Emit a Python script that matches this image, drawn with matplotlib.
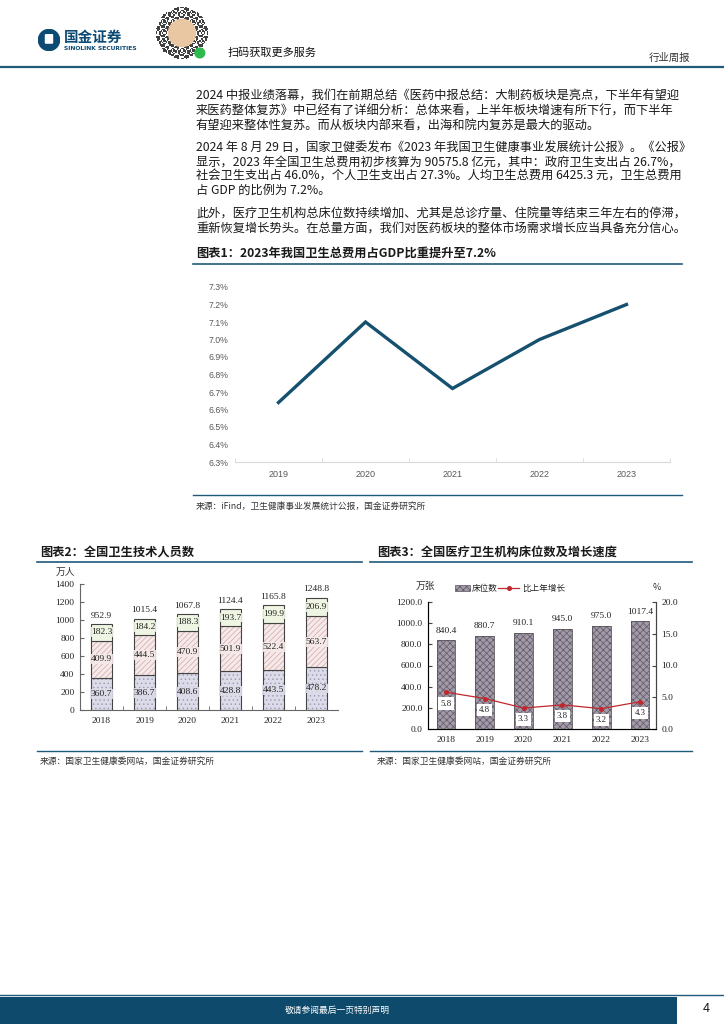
import numpy as np
import matplotlib
matplotlib.use("Agg")
import matplotlib.pyplot as plt
from matplotlib.lines import Line2D
from matplotlib.patches import Rectangle, Circle, FancyBboxPatch

plt.rcParams['font.family'] = ['Noto Sans CJK SC', 'DejaVu Sans']
plt.rcParams['hatch.linewidth'] = 0.5

# ---------------- data ----------------
years1 = ['2019', '2020', '2021', '2022', '2023']
gdp_share = [6.64, 7.10, 6.72, 7.00, 7.20]

years2 = ['2018', '2019', '2020', '2021', '2022', '2023']
staff_bottom = [360.7, 386.7, 408.6, 428.8, 443.5, 478.2]
staff_mid = [409.9, 444.5, 470.9, 501.9, 522.4, 563.7]
staff_top = [182.3, 184.2, 188.3, 193.7, 199.9, 206.9]
staff_total = [952.9, 1015.4, 1067.8, 1124.4, 1165.8, 1248.8]

years3 = ['2018', '2019', '2020', '2021', '2022', '2023']
beds = [840.4, 880.7, 910.1, 945.0, 975.0, 1017.4]
bed_growth = [5.8, 4.8, 3.3, 3.8, 3.2, 4.3]

para_lines = [
    "2024 中报业绩落幕，我们在前期总结《医药中报总结：大制药板块是亮点，下半年有望迎",
    "来医药整体复苏》中已经有了详细分析：总体来看，上半年板块增速有所下行，而下半年",
    "有望迎来整体性复苏。而从板块内部来看，出海和院内复苏是最大的驱动。",
    "2024 年 8 月 29 日，国家卫健委发布《2023 年我国卫生健康事业发展统计公报》。《公报》",
    "显示，2023 年全国卫生总费用初步核算为 90575.8 亿元，其中：政府卫生支出占 26.7%，",
    "社会卫生支出占 46.0%，个人卫生支出占 27.3%。人均卫生总费用 6425.3 元，卫生总费用",
    "占 GDP 的比例为 7.2%。",
    "此外，医疗卫生机构总床位数持续增加、尤其是总诊疗量、住院量等结束三年左右的停滞，",
    "重新恢复增长势头。在总量方面，我们对医药板块的整体市场需求增长应当具备充分信心。",
]
para_y = [95, 111, 126, 148, 162, 176, 190, 214, 229]

W, H = 724, 1024
fig = plt.figure(figsize=(W / 100, H / 100), dpi=100)

def fx(x):
    return x / W

def fy(y):
    return 1 - y / H

def rect(l, t, r, b):
    return [fx(l), fy(b), fx(r) - fx(l), fy(t) - fy(b)]

def hline(x0, x1, y, color='#1f5a7a', lw=1.2):
    fig.add_artist(Line2D([fx(x0), fx(x1)], [fy(y), fy(y)], transform=fig.transFigure,
                          color=color, lw=lw))

def ftext(x, y, s, **kw):
    kw.setdefault('va', 'center')
    fig.text(fx(x), fy(y), s, **kw)

BLUE = '#1f5a7a'
SERIF = ['Liberation Serif', 'Noto Sans CJK SC']

# ---------------- header ----------------
lax = fig.add_axes(rect(38, 29, 60, 51))
lax.set_xlim(0, 1); lax.set_ylim(0, 1); lax.axis('off')
lax.add_patch(Circle((0.5, 0.5), 0.48, color='#0d4a73'))
lax.add_patch(FancyBboxPatch((0.36, 0.38), 0.28, 0.34, boxstyle='round,pad=0.02', color='white'))
ftext(64, 37, "国金证券", fontsize=10.5, fontweight='bold', color='#0d4a73')
ftext(64, 49, "SINOLINK SECURITIES", fontsize=4.3, fontweight='bold', color='#0d4a73',
      family=['DejaVu Sans'])

qax = fig.add_axes(rect(150, 6, 214, 60))
n = 45
ii, jj = np.meshgrid(np.arange(n), np.arange(n))
qr = ((((ii * jj) ^ (ii + 3 * jj)) & 4) > 0).astype(float)
yy, xx = np.meshgrid(np.linspace(-1, 1, n), np.linspace(-1, 1, n))
rr = xx ** 2 + yy ** 2
qr[rr > 0.95] = 0
qax.imshow(1 - qr * 0.75, cmap='gray', vmin=0, vmax=1, extent=(0, 1, 0, 1),
           interpolation='nearest')
qax.add_patch(Circle((0.5, 0.5), 0.25, color='#e8c7a2'))
qax.add_patch(Circle((0.83, 0.13), 0.09, color='#2dbb4e'))
qax.axis('off')

ftext(228, 53, "扫码获取更多服务", fontsize=8, color='#111111')
ftext(690, 58, "行业周报", fontsize=7.5, color='#333333', ha='right')
hline(0, 724, 67, color=BLUE, lw=1.6)

# ---------------- paragraphs ----------------
for s, y in zip(para_lines, para_y):
    ftext(196, y, s, fontsize=8.8, color='#1a1a1a')

# ---------------- figure 1 ----------------
ftext(196, 253, "图表1：2023年我国卫生总费用占GDP比重提升至7.2%", fontsize=8.8,
      fontweight='bold', color='#1a1a1a')
hline(193, 682, 264, lw=1.2)

ax1 = fig.add_axes(rect(235, 287, 670, 462))
x1 = np.arange(len(years1))
ax1.plot(x1, gdp_share, color='#15506f', lw=2.4, solid_joinstyle='miter')
ax1.set_xlim(-0.5, len(years1) - 0.5)
ax1.set_ylim(6.3, 7.3)
yt = np.round(np.arange(6.3, 7.301, 0.1), 1)
ax1.set_yticks(yt)
ax1.set_yticklabels([f"{v:.1f}%" for v in yt], family=['Liberation Sans'], fontsize=6.3,
                    color='#595959')
ax1.set_xticks(x1)
ax1.set_xticklabels(years1, family=['Liberation Sans'], fontsize=6.5, color='#595959')
ax1.set_xticks(np.arange(-0.5, len(years1)), minor=True)
ax1.tick_params(axis='y', length=0, pad=5)
ax1.tick_params(axis='x', which='major', length=0, pad=6)
ax1.tick_params(axis='x', which='minor', direction='in', length=3, color='#d9d9d9')
for sp in ['top', 'right', 'left']:
    ax1.spines[sp].set_visible(False)
ax1.spines['bottom'].set_color('#d9d9d9')
ax1.patch.set_alpha(0)

hline(193, 682, 495, lw=1.0)
ftext(196, 507, "来源：iFind，卫生健康事业发展统计公报，国金证券研究所", fontsize=6.3, color='#333333')

# ---------------- figure 2 ----------------
ftext(40, 552, "图表2：全国卫生技术人员数", fontsize=8.8, fontweight='bold', color='#1a1a1a')
hline(37, 362, 562, lw=1.2)

ax2 = fig.add_axes(rect(80, 584, 338, 710))
x2 = np.arange(len(years2))
bw = 0.51
segs = [(staff_bottom, '#dcdbe8', '#9a98b8', '....'),
        (staff_mid, '#f6e9e9', '#d2a8a8', '//////'),
        (staff_top, '#eef5e2', '#eef5e2', None)]
base = np.zeros(len(years2))
for vals, fc, hc, hatch in segs:
    vals = np.array(vals)
    ax2.bar(x2, vals, bw, bottom=base, color=fc, edgecolor=hc, hatch=hatch, lw=0)
    ax2.bar(x2, vals, bw, bottom=base, fill=False, edgecolor='#444444', lw=0.8)
    for xi, b, v in zip(x2, base, vals):
        ax2.text(xi, b + v / 2, f"{v:.1f}", ha='center', va='center', fontsize=6.8,
                 family=SERIF, color='#222222',
                 bbox=dict(boxstyle='square,pad=0.1', fc=fc, ec='none', alpha=0.9))
    base = base + vals
for xi, t in zip(x2, staff_total):
    ax2.annotate(f"{t:.1f}", (xi, t), xytext=(0, 3), textcoords='offset points',
                 ha='center', va='bottom', fontsize=6.8, family=SERIF, color='#222222')
ax2.set_xlim(-0.5, len(years2) - 0.5)
ax2.set_ylim(0, 1400)
ax2.set_yticks(np.arange(0, 1401, 200))
ax2.set_xticks(x2)
ax2.set_xticklabels(years2)
ax2.set_xticks(np.arange(0.5, len(years2) - 0.5), minor=True)
for lab in ax2.get_xticklabels() + ax2.get_yticklabels():
    lab.set_family(SERIF); lab.set_fontsize(6.8); lab.set_color('#222222')
ax2.tick_params(axis='y', direction='in', length=3, color='#666666', pad=4)
ax2.tick_params(axis='x', which='major', length=0, pad=5)
ax2.tick_params(axis='x', which='minor', direction='in', length=3, color='#666666')
for sp in ['top', 'right']:
    ax2.spines[sp].set_visible(False)
for sp in ['left', 'bottom']:
    ax2.spines[sp].set_color('#666666'); ax2.spines[sp].set_linewidth(0.8)
ftext(65, 572, "万人", fontsize=7, color='#333333', ha='center')

hline(37, 362, 751, lw=1.0)
ftext(40, 762, "来源：国家卫生健康委网站，国金证券研究所", fontsize=6.3, color='#333333')

# ---------------- figure 3 ----------------
ftext(377, 552, "图表3：全国医疗卫生机构床位数及增长速度", fontsize=8.8, fontweight='bold',
      color='#1a1a1a')
hline(370, 692, 562, lw=1.2)

BAR3 = '#a39aa8'
HATCH3 = '#5f5666'
ax3 = fig.add_axes(rect(428, 602, 656, 729))
x3 = np.arange(len(years3))
bw3 = 0.48
ax3.bar(x3, beds, bw3, color=BAR3, edgecolor=HATCH3, hatch='xxxxx', lw=0)
ax3.bar(x3, beds, bw3, fill=False, edgecolor='#555555', lw=0.6)
for xi, v in zip(x3, beds):
    ax3.annotate(f"{v:.1f}", (xi, v), xytext=(0, 4), textcoords='offset points',
                 ha='center', va='bottom', fontsize=6.8, family=SERIF, color='#222222')
ax3.set_xlim(-0.46, 5.41)
ax3.set_ylim(0, 1200)
ax3.set_yticks(np.arange(0, 1201, 200))
ax3.set_yticklabels([f"{v:.1f}" for v in np.arange(0, 1201, 200)])
ax3.set_xticks(x3)
ax3.set_xticklabels(years3)
ax3.tick_params(axis='y', direction='in', length=3, color='#444444', pad=4)
ax3.tick_params(axis='x', which='major', length=0, pad=5)
for lab in ax3.get_xticklabels() + ax3.get_yticklabels():
    lab.set_family(SERIF); lab.set_fontsize(6.8); lab.set_color('#222222')
ax3.spines['top'].set_visible(False)
for sp in ['left', 'bottom', 'right']:
    ax3.spines[sp].set_color('#444444'); ax3.spines[sp].set_linewidth(0.8)

ax3r = ax3.twinx()
ax3r.plot(x3, bed_growth, color='#c0282d', lw=0.9, marker='o', ms=2.6)
for xi, v in zip(x3, bed_growth):
    ax3r.text(xi, v - 1.8, f"{v:.1f}", ha='center', va='center', fontsize=6.3, family=SERIF,
              color='#222222', bbox=dict(boxstyle='square,pad=0.25', fc='white', ec='none'))
ax3r.set_ylim(0, 20)
ax3r.set_yticks(np.arange(0, 21, 5))
ax3r.set_yticklabels([f"{v:.1f}" for v in np.arange(0, 21, 5)])
ax3r.tick_params(axis='y', direction='in', length=3, color='#444444', pad=4)
for lab in ax3r.get_yticklabels():
    lab.set_family(SERIF); lab.set_fontsize(6.8); lab.set_color('#222222')
ax3r.spines['top'].set_visible(False)
ax3r.spines['right'].set_color('#444444')
ax3r.spines['right'].set_linewidth(0.8)

ftext(425, 586, "万张", fontsize=7, color='#333333', ha='center')
ftext(657, 588, "%", fontsize=6.5, color='#333333', ha='center')
fig.add_artist(Rectangle((fx(455), fy(591)), fx(470) - fx(455), (591 - 585) / H,
                         transform=fig.transFigure, fc=BAR3, ec=HATCH3,
                         hatch='xxxxx', lw=0.5))
ftext(472, 588, "床位数", fontsize=6.2, color='#222222')
fig.add_artist(Line2D([fx(498), fx(519)], [fy(588), fy(588)], transform=fig.transFigure,
                      color='#c0282d', lw=0.9))
fig.add_artist(Line2D([fx(508.5)], [fy(588)], transform=fig.transFigure,
                      color='#c0282d', marker='o', ms=2.6, lw=0))
ftext(522, 588, "比上年增长", fontsize=6.2, color='#222222')

hline(370, 692, 751, lw=1.0)
ftext(377, 762, "来源：国家卫生健康委网站，国金证券研究所", fontsize=6.3, color='#333333')

# ---------------- footer ----------------
hline(0, 724, 995, color='#1f5a7a', lw=1.0)
fig.add_artist(Rectangle((0, 0), fx(677), (1024 - 997) / H, transform=fig.transFigure,
                         fc='#0e4a6b', ec='none'))
ftext(337, 1010, "敬请参阅最后一页特别声明", fontsize=6.3, color='white', ha='center')
ftext(706, 1009, "4", fontsize=9, color='#111111', ha='center', family=['Liberation Sans'])

fig.savefig("out.png", dpi=100)
